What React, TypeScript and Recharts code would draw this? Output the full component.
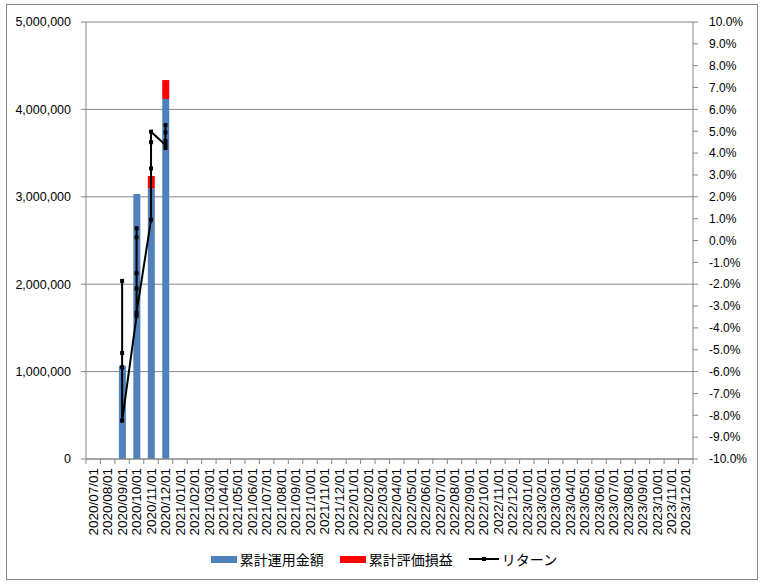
import React from "react";
import { ComposedChart, Bar, Line, XAxis, YAxis, CartesianGrid, Legend } from "recharts";

const months = [
  "2020/07/01", "2020/08/01", "2020/09/01", "2020/10/01", "2020/11/01", "2020/12/01",
  "2021/01/01", "2021/02/01", "2021/03/01", "2021/04/01", "2021/05/01", "2021/06/01",
  "2021/07/01", "2021/08/01", "2021/09/01", "2021/10/01", "2021/11/01", "2021/12/01",
  "2022/01/01", "2022/02/01", "2022/03/01", "2022/04/01", "2022/05/01", "2022/06/01",
  "2022/07/01", "2022/08/01", "2022/09/01", "2022/10/01", "2022/11/01", "2022/12/01",
  "2023/01/01", "2023/02/01", "2023/03/01", "2023/04/01", "2023/05/01", "2023/06/01",
  "2023/07/01", "2023/08/01", "2023/09/01", "2023/10/01", "2023/11/01", "2023/12/01",
];

const seriesNames = ["累計運用金額", "累計評価損益", "リターン"];

// 累計運用金額 / 累計評価損益 by month (only the first months have values)
const invested = [null, null, 1067000, 3032000, 3097000, 4119000];
const gain = [null, null, 0, 0, 141000, 217000];

// リターン (%) — several readings per month, all drawn at the month's position
const returnMonthIdx = [2, 2, 2, 2, 3, 3, 3, 3, 3, 3, 4, 4, 4, 4, 5, 5, 5, 5, 5];
const returnPct = [
  -1.85, -5.15, -5.8, -8.25,
  -3.45, -2.2, -1.5, 0.15, 0.56, -3.3,
  0.95, 3.3, 4.5, 4.98,
  4.37, 5.28, 4.95, 4.55, 4.23,
];

const amountTicks = [0, 1000000, 2000000, 3000000, 4000000, 5000000];
const returnTicks = [-10, -9, -8, -7, -6, -5, -4, -3, -2, -1, 0, 1, 2, 3, 4, 5, 6, 7, 8, 9, 10];

const barData = months.map((m, i) => ({
  month: m,
  invested: invested[i] ?? null,
  gain: gain[i] ?? null,
}));

const lineData = returnPct.map((v, i) => ({ x: returnMonthIdx[i] + 0.5, ret: v }));

const W = 764;
const H = 588;
const PLOT_LEFT = 86;
const PLOT_RIGHT = 693;
const BAND = (PLOT_RIGHT - PLOT_LEFT) / months.length;
const GRAY = "#868686";
const NUM_FONT = "'Liberation Sans', Arial, sans-serif";

const MonthTick = (props: any) => {
  const { x, y, payload, index } = props;
  const half = BAND / 2;
  return (
    <g>
      <line x1={x - half} y1={y} x2={x - half} y2={y + 5} stroke={GRAY} />
      {index === months.length - 1 && <line x1={x + half} y1={y} x2={x + half} y2={y + 5} stroke={GRAY} />}
      <text
        x={x}
        y={y + 9}
        dy="0.35em"
        textAnchor="end"
        transform={`rotate(-90, ${x}, ${y + 9})`}
        fontSize={13.5}
        fontFamily={NUM_FONT}
        fill="#000"
      >
        {payload.value}
      </text>
    </g>
  );
};

const LegendContent = (props: any) => {
  const items = [...(props.payload || [])].sort(
    (a: any, b: any) => seriesNames.indexOf(a.value) - seriesNames.indexOf(b.value)
  );
  return (
    <div
      style={{
        display: "flex",
        justifyContent: "center",
        alignItems: "center",
        paddingTop: 5,
        fontFamily: "'Noto Sans CJK JP', sans-serif",
        fontSize: 14,
        color: "#000",
        gap: 16,
        paddingLeft: 4,
      }}
    >
      {items.map((it: any) => (
        <div key={it.value} style={{ display: "flex", alignItems: "center", gap: 3 }}>
          {it.type === "line" ? (
            <svg width={30} height={8}>
              <line x1={0} y1={4} x2={30} y2={4} stroke="#000" strokeWidth={2} />
              <rect x={13} y={2} width={4} height={4} fill="#000" />
            </svg>
          ) : (
            <span style={{ display: "inline-block", width: 26, height: 7, background: it.color }} />
          )}
          <span>{it.value}</span>
        </div>
      ))}
    </div>
  );
};

const SquareDot = (props: any) => {
  const { cx, cy } = props;
  if (cx == null || cy == null) return null;
  return <rect x={cx - 2} y={cy - 2} width={4} height={4} fill="#000" />;
};

export default function App() {
  return (
    <div style={{ position: "absolute", left: 0, top: 0, width: W, height: H, background: "#fff" }}>
      <div
        style={{
          position: "absolute",
          left: 6,
          top: 4,
          width: 752,
          height: 576,
          border: `1px solid ${GRAY}`,
          boxSizing: "border-box",
        }}
      />
      <ComposedChart
        width={W}
        height={H}
        data={barData}
        margin={{ top: 22, right: 0, bottom: 0, left: 0 }}
        style={{ position: "absolute", left: 0, top: 0 }}
      >
        <CartesianGrid yAxisId="amt" xAxisId="cat" vertical={false} stroke={GRAY} />
        <XAxis
          xAxisId="cat"
          dataKey="month"
          type="category"
          interval={0}
          height={85}
          tickSize={0}
          tickMargin={0}
          tickLine={false}
          axisLine={{ stroke: GRAY }}
          tick={<MonthTick />}
        />
        <XAxis xAxisId="num" dataKey="x" type="number" domain={[0, months.length]} allowDataOverflow hide />
        <YAxis
          yAxisId="amt"
          orientation="left"
          width={PLOT_LEFT}
          domain={[0, 5000000]}
          ticks={amountTicks}
          tickFormatter={(v: number) => v.toLocaleString("en-US")}
          tickSize={5}
          tickMargin={10}
          tickLine={{ stroke: GRAY }}
          axisLine={{ stroke: GRAY }}
          tick={{ fontSize: 12.5, fill: "#000", fontFamily: NUM_FONT }}
        />
        <YAxis
          yAxisId="ret"
          orientation="right"
          width={W - PLOT_RIGHT}
          domain={[-10, 10]}
          ticks={returnTicks}
          tickFormatter={(v: number) => `${v.toFixed(1)}%`}
          tickSize={5}
          tickMargin={11}
          tickLine={{ stroke: GRAY }}
          axisLine={{ stroke: GRAY }}
          tick={{ fontSize: 12, fill: "#000", fontFamily: NUM_FONT, textAnchor: "start" }}
        />
        <Bar
          xAxisId="cat"
          yAxisId="amt"
          dataKey="invested"
          name="累計運用金額"
          stackId="a"
          fill="#4F81BD"
          barSize={7}
          legendType="rect"
          isAnimationActive={false}
        />
        <Bar
          xAxisId="cat"
          yAxisId="amt"
          dataKey="gain"
          name="累計評価損益"
          stackId="a"
          fill="#FF0000"
          barSize={7}
          legendType="rect"
          isAnimationActive={false}
        />
        <Line
          xAxisId="num"
          yAxisId="ret"
          data={lineData}
          dataKey="ret"
          name="リターン"
          type="linear"
          stroke="#000"
          strokeWidth={2}
          dot={<SquareDot />}
          activeDot={false}
          legendType="line"
          isAnimationActive={false}
        />
        <Legend
          verticalAlign="bottom"
          content={<LegendContent />}
          wrapperStyle={{ left: 0, width: W, height: 44 }}
        />
      </ComposedChart>
    </div>
  );
}
